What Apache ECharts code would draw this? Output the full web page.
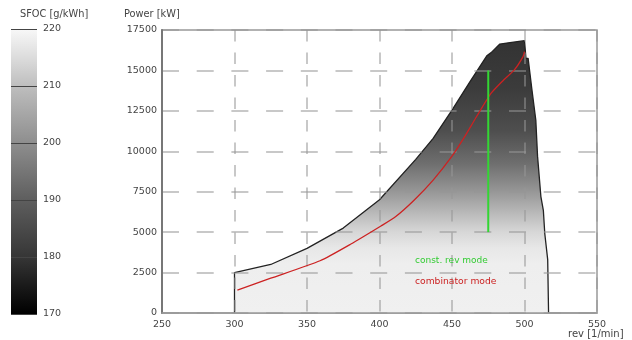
<!DOCTYPE html>
<html>
<head>
<meta charset="utf-8">
<script src="https://cdn.jsdelivr.net/npm/echarts@6/dist/echarts.min.js"></script>
<style>
  html, body { margin: 0; padding: 0; background: #fff; }
  #chart { width: 632px; height: 340px; }
</style>
</head>
<body>
<div id="chart"></div>
<script>
// engine envelope (rev, power)
const envRev = [300, 300, 325, 350, 375, 400, 425, 437, 450, 462, 474, 477, 483, 490, 500, 501, 502.5, 505, 507.8, 509, 511.3, 513, 514, 516, 516.6]
const envPow = [0, 2500, 3000, 4000, 5250, 7000, 9500, 10800, 12550, 14250, 15900, 16100, 16630, 16720, 16840, 15750, 15750, 13900, 11930, 9700, 7200, 6350, 4900, 3300, 0]

// combinator mode curve
const combRev = [302, 325, 359, 380, 401, 411, 424, 437, 450, 458, 467, 477, 485, 493, 499, 500]
const combPow = [1420, 2150, 3230, 4250, 5380, 5950, 6990, 8220, 9700, 10800, 12150, 13590, 14350, 15030, 15850, 16160]

// constant rev mode line
const constRev = [475, 475]
const constPow = [5000, 15000]

// axis ticks
const revTicks = [250, 300, 350, 400, 450, 500, 550]
const powTicks = [0, 2500, 5000, 7500, 10000, 12500, 15000, 17500]
const sfocTicks = [170, 180, 190, 200, 210, 220]

const font = 'DejaVu Sans'
const txt = '#444'

function pairs (xs, ys) {
  return xs.map((x, i) => [x, ys[i]])
}

const chart = echarts.init(document.getElementById('chart'))

chart.setOption({
  animation: false,
  backgroundColor: '#fff',
  grid: [
    { left: 162, right: 35, top: 30, bottom: 27, show: true, borderColor: '#999', borderWidth: 1.5, outerBoundsMode: 'none' },
    { left: 11, top: 29, width: 26, height: 285, outerBoundsMode: 'none' }
  ],
  xAxis: [
    {
      type: 'value',
      gridIndex: 0,
      min: revTicks[0],
      max: revTicks[revTicks.length - 1],
      interval: revTicks[1] - revTicks[0],
      z: 3,
      axisLine: { show: true, lineStyle: { color: '#999', width: 1.5 } },
      axisTick: { show: false },
      axisLabel: { color: txt, fontFamily: font, fontSize: 9.5, margin: 7, formatter: v => String(v) },
      splitLine: { show: true, lineStyle: { color: 'rgba(150,150,150,0.7)', width: 1.5, type: [11.5, 11] } }
    },
    {
      type: 'category',
      gridIndex: 1,
      data: ['SFOC'],
      show: false
    }
  ],
  yAxis: [
    {
      type: 'value',
      gridIndex: 0,
      min: powTicks[0],
      max: powTicks[powTicks.length - 1],
      interval: powTicks[1] - powTicks[0],
      z: 3,
      axisLine: { show: true, lineStyle: { color: '#777', width: 2 } },
      axisTick: { show: false },
      axisLabel: { color: txt, fontFamily: font, fontSize: 9.5, margin: 5, formatter: v => String(v) },
      splitLine: { show: true, lineStyle: { color: 'rgba(150,150,150,0.7)', width: 1.5, type: [17, 17.7] } }
    },
    {
      type: 'value',
      gridIndex: 1,
      position: 'right',
      min: sfocTicks[0],
      max: sfocTicks[sfocTicks.length - 1],
      interval: sfocTicks[1] - sfocTicks[0],
      z: 5,
      axisLine: { show: false },
      axisTick: { show: true, inside: true, length: 26, lineStyle: { color: '#444', width: 1 } },
      axisLabel: { color: txt, fontFamily: font, fontSize: 9.5, margin: 6 },
      splitLine: { show: false }
    }
  ],
  series: [
    {
      name: 'envelope',
      type: 'line',
      xAxisIndex: 0,
      yAxisIndex: 0,
      z: 2,
      symbol: 'none',
      data: pairs(envRev, envPow),
      lineStyle: { color: '#222', width: 1.3 },
      areaStyle: {
        opacity: 1,
        color: new echarts.graphic.LinearGradient(0, 0, 0, 1, [
          { offset: 0, color: '#333333' },
          { offset: 0.17, color: '#3b3b3b' },
          { offset: 0.33, color: '#4e4e4e' },
          { offset: 0.45, color: '#6e6e6e' },
          { offset: 0.55, color: '#959595' },
          { offset: 0.64, color: '#bcbcbc' },
          { offset: 0.70, color: '#d6d6d6' },
          { offset: 0.76, color: '#e7e7e7' },
          { offset: 0.82, color: '#eeeeee' },
          { offset: 1, color: '#f0f0f0' }
        ])
      }
    },
    {
      name: 'combinator mode',
      type: 'line',
      xAxisIndex: 0,
      yAxisIndex: 0,
      z: 10,
      symbol: 'none',
      smooth: 0.2,
      data: pairs(combRev, combPow),
      lineStyle: { color: '#cc2222', width: 1.3 }
    },
    {
      name: 'const. rev mode',
      type: 'line',
      xAxisIndex: 0,
      yAxisIndex: 0,
      z: 10,
      symbol: 'none',
      data: pairs(constRev, constPow),
      lineStyle: { color: '#33d633', width: 2 }
    },
    {
      type: 'bar',
      xAxisIndex: 1,
      yAxisIndex: 1,
      stack: 'bar',
      barWidth: '100%',
      silent: true,
      data: [sfocTicks[0]],
      itemStyle: { color: 'rgba(0,0,0,0)' }
    },
    {
      type: 'bar',
      xAxisIndex: 1,
      yAxisIndex: 1,
      stack: 'bar',
      barWidth: '100%',
      silent: true,
      data: [sfocTicks[sfocTicks.length - 1] - sfocTicks[0]],
      itemStyle: {
        color: new echarts.graphic.LinearGradient(0, 0, 0, 1, [
          { offset: 0, color: '#f8f8f8' },
          { offset: 0.1, color: '#dcdcdc' },
          { offset: 0.2, color: '#bebebe' },
          { offset: 0.4, color: '#8e8e8e' },
          { offset: 0.6, color: '#5e5e5e' },
          { offset: 0.8, color: '#363636' },
          { offset: 0.9, color: '#1a1a1a' },
          { offset: 1, color: '#000000' }
        ])
      }
    }
  ],
  graphic: [
    { type: 'text', left: 20, top: 9, style: { text: 'SFOC [g/kWh]', fill: txt, font: '9.8px "DejaVu Sans"' } },
    { type: 'text', left: 124, top: 9, style: { text: 'Power [kW]', fill: txt, font: '9.8px "DejaVu Sans"' } },
    { type: 'text', left: 568, top: 329, style: { text: 'rev [1/min]', fill: txt, font: '10px "DejaVu Sans"' } },
    { type: 'text', left: 415, top: 256, z: 10, style: { text: 'const. rev mode', fill: '#33cc33', font: '9px "DejaVu Sans"' } },
    { type: 'text', left: 415, top: 277, z: 10, style: { text: 'combinator mode', fill: '#cc2222', font: '9.2px "DejaVu Sans"' } }
  ]
})
</script>
</body>
</html>
